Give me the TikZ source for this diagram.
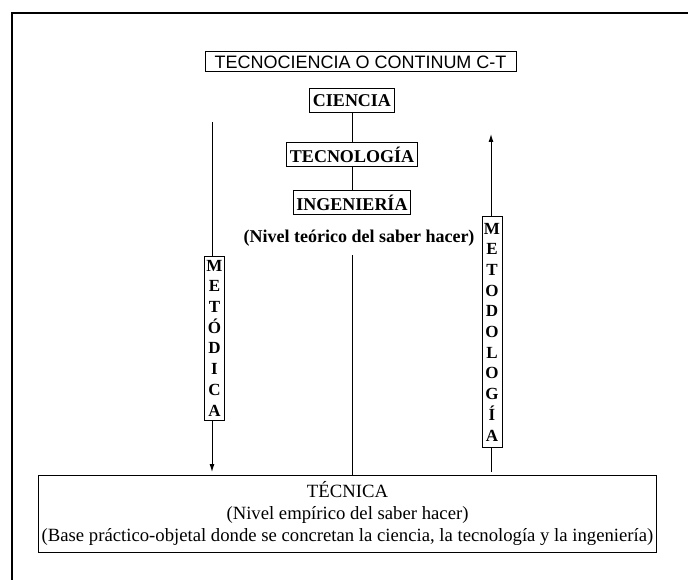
\documentclass[tikz,border=0pt]{standalone}
\usepackage{fontspec}
\setmainfont{Liberation Serif}
\newfontfamily\titlefont{Liberation Sans}
\usetikzlibrary{positioning,arrows.meta}
\tikzset{
  caja/.style={draw, line width=1pt, inner xsep=3pt, minimum height=24pt, font=\bfseries\fontsize{18}{20}\selectfont},
  letras/.style={draw, line width=1pt, align=center, text width=18pt, inner sep=1pt, font=\bfseries\fontsize{17}{20.7}\selectfont},
  linea/.style={line width=1pt},
  arr/.style={line width=1pt, -{Latex[length=8pt,width=5pt]}},
}
\begin{document}
\begin{tikzpicture}[x=1pt,y=-1pt]
  \useasboundingbox (0,0) rectangle (688,580);
  % marco exterior
  \draw[line width=1.3pt] (12,580) -- (12,13) -- (688,13);

  \node[draw, line width=1pt, inner xsep=5pt, minimum width=311pt, minimum height=20pt, font=\titlefont\fontsize{18}{20}\selectfont] (titulo) at (360.5,62) {TECNOCIENCIA O CONTINUM C-T};

  \node[caja] (ciencia) at (352,100.5) {CIENCIA};
  \node[caja, below=29pt of ciencia] (tecno) {TECNOLOG\'IA};
  \node[caja, below=23pt of tecno] (inge) {INGENIER\'IA};
  \node[font=\bfseries\fontsize{18}{20}\selectfont] (nivelteo) at (359,238) {(Nivel te\'orico del saber hacer)};
  \draw[linea] (ciencia) -- (tecno);
  \draw[linea] (tecno) -- (inge);

  \node[draw, line width=1pt, minimum width=615pt, minimum height=77pt, align=center, font=\fontsize{18.7}{22}\selectfont] (tecnica) at (347.5,513.5)
    {T\'ECNICA\\(Nivel emp\'irico del saber hacer)\\(Base pr\'actico-objetal donde se concretan la ciencia, la tecnolog\'ia y la ingenier\'ia)};
  \draw[linea] (352,255) -- (352,475);

  % metodica (baja)
  \node[letras, minimum height=164pt] (metodica) at (214.5,338) {M\\E\\T\\\'O\\D\\I\\C\\A};
  \coordinate (metI) at (212,122);
  \coordinate (metF) at (212,472);
  \draw[linea] (metI) -- (metI |- metodica.north);
  \draw[arr] (metI |- metodica.south) -- (metF);

  % metodologia (sube)
  \node[letras, minimum height=230pt] (metodologia) at (492,332) {M\\E\\T\\O\\D\\O\\L\\O\\G\\\'I\\A};
  \coordinate (mtgI) at (491,472);
  \coordinate (mtgF) at (491,134);
  \draw[linea] (mtgI) -- (mtgI |- metodologia.south);
  \draw[arr] (mtgI |- metodologia.north) -- (mtgF);
\end{tikzpicture}
\end{document}
